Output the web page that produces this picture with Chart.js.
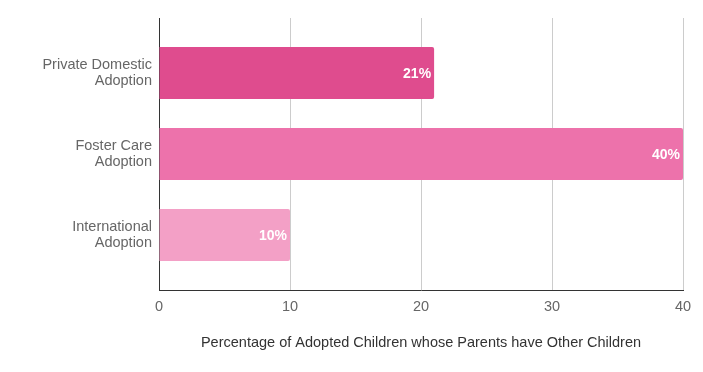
<!DOCTYPE html>
<html>
<head>
<meta charset="utf-8">
<script src="https://cdn.jsdelivr.net/npm/chart.js@4/dist/chart.umd.min.js"></script>
<style>
html,body{margin:0;padding:0;background:#fff;}
#wrap{width:703px;height:372px;position:relative;}
</style>
</head>
<body>
<div id="wrap"><canvas id="c" width="703" height="372"></canvas></div>
<script>
const categories = [["Private Domestic", "Adoption"], ["Foster Care", "Adoption"], ["International", "Adoption"]];
const values = [21, 40, 10];
const barColors = ["#DF4C8E", "#ED72AB", "#F3A0C6"];
const xTicks = [0, 10, 20, 30, 40];
const xTitle = "Percentage of Adopted Children whose Parents have Other Children";

const FONT = "'Liberation Sans', Arial, Helvetica, sans-serif";

const valueLabels = {
  id: 'valueLabels',
  afterDatasetsDraw(chart) {
    const ctx = chart.ctx;
    const meta = chart.getDatasetMeta(0);
    ctx.save();
    ctx.font = "bold 14px " + FONT;
    ctx.fillStyle = "#ffffff";
    ctx.textAlign = "right";
    ctx.textBaseline = "middle";
    meta.data.forEach((bar, i) => {
      ctx.fillText(values[i] + "%", bar.x - 3, bar.y + 1);
    });
    ctx.restore();
  }
};

new Chart(document.getElementById('c'), {
  type: 'bar',
  data: {
    labels: categories,
    datasets: [{
      data: values,
      backgroundColor: barColors,
      borderRadius: 2,
      borderSkipped: 'start',
      categoryPercentage: 0.642,
      barPercentage: 1.0
    }]
  },
  options: {
    indexAxis: 'y',
    responsive: false,
    animation: false,
    devicePixelRatio: 1,
    layout: { padding: { top: 18, right: 20, bottom: 18, left: 0 } },
    plugins: { legend: { display: false }, tooltip: { enabled: false } },
    scales: {
      x: {
        min: 0, max: 40,
        afterBuildTicks: s => { s.ticks = xTicks.map(v => ({ value: v })); },
        afterFit: s => { s.height = 64; },
        grid: { color: '#cccccc', lineWidth: 1, drawTicks: false },
        border: { display: true, color: '#333333', width: 1 },
        ticks: { color: '#666666', font: { family: FONT, size: 14.5 }, padding: 8, maxRotation: 0 },
        title: { display: true, text: xTitle, color: '#333333', font: { family: FONT, size: 14.5 }, padding: { top: 4, bottom: 2 } }
      },
      y: {
        offset: true,
        afterBuildTicks: s => { s._startValue = -0.68; s._valueRange = 3.36; },
        afterFit: s => { s.width = 159; s.paddingTop = 0; s.paddingBottom = 0; },
        grid: { display: false, drawTicks: false },
        border: { display: true, color: '#333333', width: 1 },
        ticks: { color: '#666666', font: { family: FONT, size: 14.5, lineHeight: 1.1 }, padding: 7 }
      }
    }
  },
  plugins: [valueLabels]
});
</script>
</body>
</html>
